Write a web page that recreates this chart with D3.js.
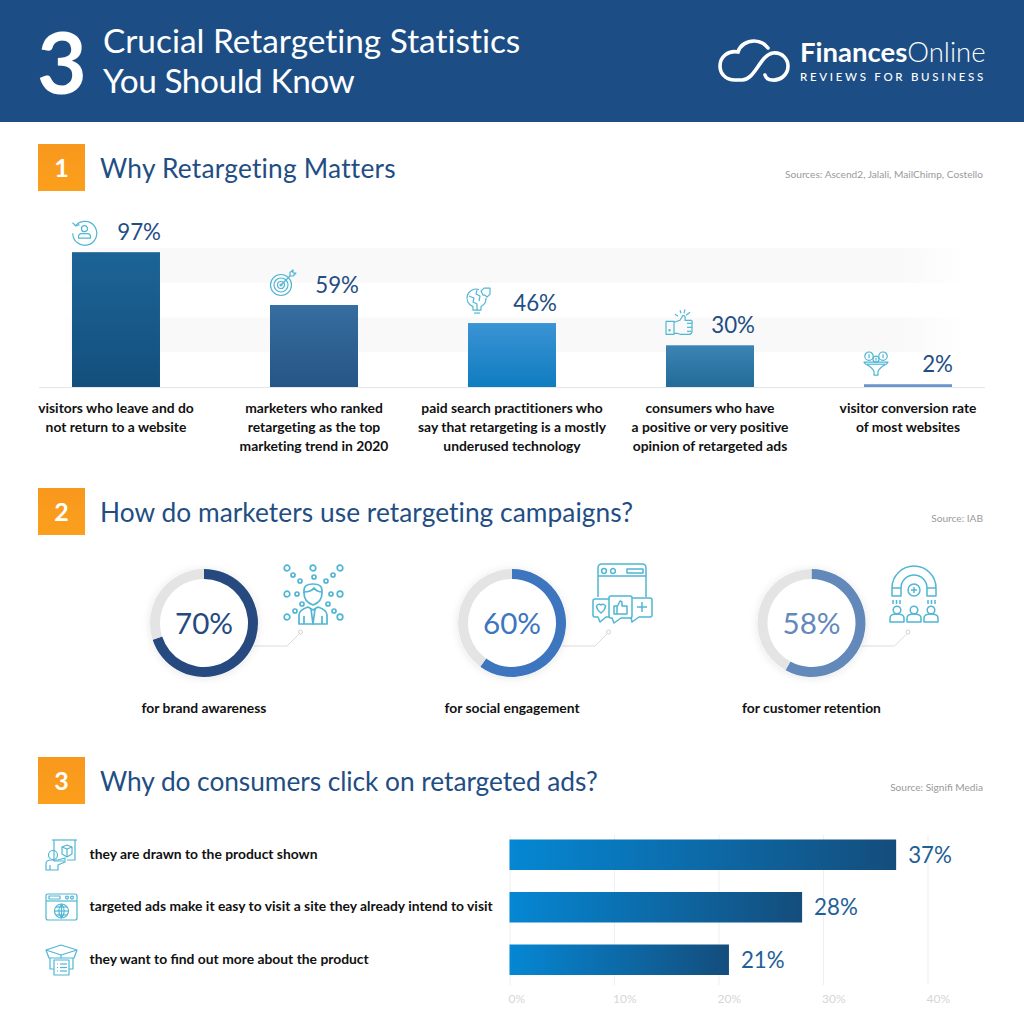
<!DOCTYPE html>
<html>
<head>
<meta charset="utf-8">
<script src="https://cdn.jsdelivr.net/npm/d3@7"></script>
<style>
  html, body { margin: 0; padding: 0; background: #fff; }
  svg { display: block; font-family: Lato, sans-serif; font-variant-ligatures: none; }
  .click-label, .source { font-variant-ligatures: normal; }
</style>
</head>
<body>
<div id="svgContainer"></div>
<script>
const width = 1024;
const height = 1024;

// section 1
const whyLabels = [
  ["visitors who leave and do", "not return to a website"],
  ["marketers who ranked", "retargeting as the top", "marketing trend in 2020"],
  ["paid search practitioners who", "say that retargeting is a mostly", "underused technology"],
  ["consumers who have", "a positive or very positive", "opinion of retargeted ads"],
  ["visitor conversion rate", "of most websites"]
];
const whyValues = [97, 59, 46, 30, 2];
const whyTop = ["#1c6496", "#356e9f", "#3a93d4", "#3a84b4", "#6a96cb"];
const whyBottom = ["#134f7d", "#275486", "#0f7dc0", "#246b97", "#6a96cb"];

// section 2
const useLabels = ["for brand awareness", "for social engagement", "for customer retention"];
const useValues = [70, 60, 58];
const useColors = ["#264a7f", "#3d75bf", "#6389bb"];

// section 3
const clickLabels = [
  "they are drawn to the product shown",
  "targeted ads make it easy to visit a site they already intend to visit",
  "they want to find out more about the product"
];
const clickValues = [37, 28, 21];
const clickTicks = [0, 10, 20, 30, 40];

const sectionTitles = ["Why Retargeting Matters", "How do marketers use retargeting campaigns?", "Why do consumers click on retargeted ads?"];
const sectionSources = ["Sources: Ascend2, Jalali, MailChimp, Costello", "Source: IAB", "Source: Signifi Media"];

const navy = "#1f4e84";
const teal = "#4fb6d4";

const svg = d3.select("#svgContainer").append("svg")
  .attr("width", width)
  .attr("height", height);
const defs = svg.append("defs");

function circ(cx, cy, r) {
  return `M${cx - r},${cy}a${r},${r} 0 1,0 ${2 * r},0a${r},${r} 0 1,0 ${-2 * r},0`;
}

function vGrad(id, top, bottom) {
  const g = defs.append("linearGradient").attr("id", id)
    .attr("x1", 0).attr("y1", 0).attr("x2", 0).attr("y2", 1);
  g.append("stop").attr("offset", 0).attr("stop-color", top);
  g.append("stop").attr("offset", 1).attr("stop-color", bottom);
}

// icons, drawn in their own little coordinate space
const icons = {
  returning: [
    "M4,6A12,12 0 1,1 .8,14", "M.5,3.5L3.8,6.8L7.5,5.5", circ(12.5, 9.5, 3),
    "M6.5,19v-1.5a3,3 0 0 1 3,-3h6a3,3 0 0 1 3,3v1.5z"
  ],
  target: [
    circ(11, 15, 10.5), circ(11, 15, 7), circ(11, 15, 3.5), circ(11, 15, 1),
    "M11,15L20,6", "M20,6V2.5L23,0V3H26L23,6z"
  ],
  bulb: [
    "M11,2.5A9,9 0 0 0 5,19.5V23H13V19.5A9,9 0 0 0 18,11",
    "M6,26H12", "M1,9L6,11L5,15L9,17L9,23", "M9,3L8,7L12,9L11,14",
    "M13,4L16,1H22V7L19,10L17,8L15,8z"
  ],
  thumb: [
    "M0,12H8V25H0z", circ(3.5, 21, .6),
    "M8,13L14,11L17,6Q20,6 19,11H25Q27,12 26,14V22Q26,25 23,25H14L11,24H8",
    "M21,14H26", "M21,18H26", "M21,22H25",
    "M15,4L14,1", "M18,4L19,0", "M20,6L24,3", "M12,7L9,5"
  ],
  funnel: [
    circ(5, 5, 4.2), circ(19, 5, 4.2), circ(12, 8, 3),
    "M5,3V7", "M19,3V7", "M12,6.5V9.5",
    "M0,11H24L22,13Q16,16 14,20V24H10V20Q8,16 2,13z", "M3,13H21"
  ],
  browser: [
    "M6,33V4Q6,0 10,0H50Q54,0 54,4V33", "M6,12H54", circ(12, 7, 2.4), circ(21, 7, 2.4),
    "M35,5H51V9H35z",
    "M17,35H3Q1,35 1,37V51Q1,53 3,53H6L8,58L14,53H17",
    "M40,34H58Q60,34 60,36V51Q60,53 58,53H47L40,58L39,53",
    "M19,32H38Q40,32 40,34V52Q40,54 38,54H29L22,59L20,54H19Q17,54 17,52V34Q17,32 19,32z",
    "M9,41A2.7,2.7 0 0 1 13.5,42.5Q13,46 9,49Q5,46 4.5,42.5A2.7,2.7 0 0 1 9,41z",
    "M22,42H25V50H22z M25,43L28,37Q30,37 30,39V42H35V50H25",
    "M50,38V48", "M45,43H55"
  ],
  magnet: [
    "M2,26A22,22 0 0 1 46,26V34H37V26A13,13 0 0 0 11,26V34H2z", "M2,26H11", "M37,26H46",
    circ(24, 28, 6), "M24,25V31", "M21,28H27",
    "M3,38V42", "M6.5,38V42", "M10,38V42", "M38,38V42", "M41.5,38V42", "M45,38V42",
    circ(7, 48, 3.8), circ(24, 48, 3.8), circ(41, 48, 3.8),
    "M0,60V56Q0,52 7,52Q14,52 14,56V60z", "M17,60V56Q17,52 24,52Q31,52 31,56V60z",
    "M34,60V56Q34,52 41,52Q48,52 48,56V60z"
  ],
  screen: [
    "M6,1H31", "M8,1V22H18", "M29,1V21H21", "M16,8L21,6L26,8V15L21,18L16,15z", "M16,8L21,10L26,8", "M21,10V18",
    circ(7, 16, 4.5), "M0,31V25Q0,21 5,21H12L19,19V23L12,26V31z", "M4,31V26"
  ],
  globe: [
    "M2,0H29Q31,0 31,2V24Q31,26 29,26H2Q0,26 0,24V2Q0,0 2,0z", "M0,7H31",
    "M3,2H14V5H3z", circ(21, 3.5, 1.4), circ(26, 3.5, 1.4),
    circ(15.5, 17, 7), "M8.5,17H22.5", "M15.5,10V24", "M10,13H21", "M10,21H21",
    "M15.5,10Q10,17 15.5,24Q21,17 15.5,10"
  ],
  box: [
    "M15,0L31,5L15,10L0,5z", "M0,5L3,13H15L15,10", "M31,5L28,13H15", "M4,13V24H8", "M27,13V24H23",
    "M8,15H23V30H8z", "M11,19H12", "M14,19H21", "M11,22.5H12", "M14,22.5H21", "M11,26H12", "M14,26H21"
  ]
};

function drawIcon(name, x, y, sw) {
  svg.append("g")
    .attr("class", "icon")
    .attr("transform", `translate(${x},${y})`)
    .selectAll("path")
    .data(icons[name])
    .join("path")
    .attr("d", d => d)
    .attr("fill", "none")
    .attr("stroke", teal)
    .attr("stroke-width", sw || 1.2)
    .attr("stroke-linejoin", "round");
}

// ---- header
svg.append("rect").attr("width", width).attr("height", 122).attr("fill", "#1c4e85");
svg.append("text").attr("x", 37).attr("y", 94).attr("font-size", 86).attr("font-weight", 700)
  .attr("fill", "#fff").text("3");
svg.append("text").attr("x", 103).attr("y", 53).attr("font-size", 33.4).attr("fill", "#fff")
  .text("Crucial Retargeting Statistics");
svg.append("text").attr("x", 103).attr("y", 93).attr("font-size", 33.4).attr("letter-spacing", -0.45).attr("fill", "#fff")
  .text("You Should Know");

svg.append("path")
  .attr("d", "M742,80H735C725,80 720,73 720,66C720,57 728,50 738,52C740,45 747,41 754,41C760,41 765,44 768,48M742,80C755,80 760,55 773,53C783,52 788,60 788,66C788,75 780,81 772,80C768,80 766,78 765,75")
  .attr("fill", "none").attr("stroke", "#fff").attr("stroke-width", 3.6).attr("stroke-linecap", "round");
const logo = svg.append("text").attr("x", 800).attr("y", 62).attr("font-size", 27.5).attr("fill", "#fff");
logo.append("tspan").attr("font-weight", 700).text("Finances");
logo.append("tspan").attr("font-weight", 300).text("Online");
svg.append("text").attr("x", 800).attr("y", 81).attr("font-size", 11.5).attr("font-weight", 500)
  .attr("letter-spacing", 2.7).attr("fill", "#fff").text("REVIEWS FOR BUSINESS");

// ---- section headings
vGrad("orange", "#f8981d", "#fb9f1c");
const sectionTops = [144, 488, 757];
const sourceY = [178, 522, 791];
const titleSpacing = [0.22, 0.05, -0.05];
sectionTops.forEach((top, i) => {
  svg.append("rect").attr("x", 38).attr("y", top).attr("width", 47).attr("height", 47).attr("fill", "url(#orange)");
  svg.append("text").attr("x", 61.5).attr("y", top + 33).attr("text-anchor", "middle")
    .attr("font-size", 25).attr("font-weight", 700).attr("fill", "#fff").text(i + 1);
  svg.append("text").attr("x", 100).attr("y", top + 34).attr("font-size", 26.3)
    .attr("letter-spacing", titleSpacing[i]).attr("fill", navy)
    .text(sectionTitles[i]);
  svg.append("text").attr("class", "source").attr("x", 983).attr("y", sourceY[i]).attr("text-anchor", "end")
    .attr("font-size", 10.15).attr("fill", "#9a9a9a").text(sectionSources[i]);
});

// ---- section 1: columns
const x1 = d3.scaleBand().domain(d3.range(whyValues.length)).range([72 - 55, 952 + 55]).paddingInner(110 / 198).paddingOuter(0.2777);
const y1 = d3.scaleLinear().domain([0, 100]).range([387, 248]);

const stripe = defs.append("linearGradient").attr("id", "stripe");
[[0, 0], [0.05, 1], [0.93, 1], [1, 0]].forEach(s => {
  stripe.append("stop").attr("offset", s[0]).attr("stop-color", "#f9f9f9").attr("stop-opacity", s[1]);
});
[[75, 100], [25, 50]].forEach(b => {
  svg.append("rect").attr("x", 60).attr("width", 905)
    .attr("y", y1(b[1])).attr("height", y1(b[0]) - y1(b[1]))
    .attr("fill", "url(#stripe)");
});

whyValues.forEach((d, i) => vGrad("why" + i, whyTop[i], whyBottom[i]));
const whyIcons = ["returning", "target", "bulb", "thumb", "funnel"];
const whyIconUp = [33, 35, 36, 36, 33];

svg.selectAll(".why-bar").data(whyValues).join("rect")
  .attr("class", "why-bar")
  .attr("x", (d, i) => x1(i))
  .attr("y", d => y1(d))
  .attr("width", x1.bandwidth())
  .attr("height", d => y1(0) - y1(d))
  .attr("fill", (d, i) => `url(#why${i})`);

svg.append("line").attr("x1", 39).attr("x2", 985).attr("y1", 387.5).attr("y2", 387.5)
  .attr("stroke", "#e3e6ea").attr("stroke-width", 1);

svg.selectAll(".why-value").data(whyValues).join("text")
  .attr("class", "why-value")
  .attr("x", (d, i) => x1(i) + x1.bandwidth() + 1)
  .attr("y", d => y1(d) - 12)
  .attr("text-anchor", "end")
  .attr("font-size", 22.3)
  .attr("fill", navy)
  .text(d => d + "%");

whyLabels.forEach((lines, i) => {
  const t = svg.append("text").attr("class", "why-label").attr("text-anchor", "middle")
    .attr("font-size", 13.87).attr("font-weight", 700).attr("fill", "#111");
  lines.forEach((line, j) => {
    t.append("tspan").attr("x", x1(i) + x1.bandwidth() / 2).attr("y", 413 + j * 19).text(line);
  });
  drawIcon(whyIcons[i], x1(i), y1(whyValues[i]) - whyIconUp[i]);
});

// ---- section 2: donuts
const pie = d3.pie().sort(null).value(d => d);
const arc = d3.arc().innerRadius(44).outerRadius(54);
const donutX = d3.scaleOrdinal().domain(useLabels).range([204, 512, 811.5]);

defs.append("filter").attr("id", "soft").attr("x", "-30%").attr("y", "-30%").attr("width", "160%").attr("height", "160%")
  .append("feDropShadow").attr("dx", 0).attr("dy", 1).attr("stdDeviation", 4).attr("flood-color", "#000").attr("flood-opacity", 0.1);

useLabels.forEach((label, i) => {
  const cx = donutX(label);
  // leader first so that the ring sits on top of it
  svg.append("path")
    .attr("d", `M${cx + 50},646H${cx + 83}L${cx + 95},634`)
    .attr("fill", "none").attr("stroke", "#dcdcdc").attr("stroke-width", 1);
  svg.append("circle").attr("cx", cx + 96.5).attr("cy", 632).attr("r", 2)
    .attr("fill", "#fff").attr("stroke", "#c8c8c8").attr("stroke-width", 0.8);

  const g = svg.append("g").attr("class", "donut").attr("transform", `translate(${cx},623)`);
  g.append("circle").attr("r", 54).attr("fill", "#fff").attr("filter", "url(#soft)");
  g.selectAll("path").data(pie([useValues[i], 100 - useValues[i]])).join("path")
    .attr("d", arc)
    .attr("fill", (d, j) => j === 0 ? useColors[i] : "#e4e4e4");
  g.append("text").attr("y", 11).attr("text-anchor", "middle").attr("font-size", 29.6)
    .attr("fill", useColors[i]).text(useValues[i] + "%");
  svg.append("text").attr("x", cx).attr("y", 713).attr("text-anchor", "middle")
    .attr("font-size", 13.87).attr("font-weight", 700).attr("fill", "#111").text(label);
});

// person with the dots around him
const dotsR3 = [[4, 4], [30, 4], [57, 4], [4, 30], [57, 30], [4, 53], [57, 53]];
const dotsR2 = [[10, 11], [31, 13], [50, 11], [17, 17], [43, 17], [14, 30], [48, 30], [19, 40], [45, 40], [12, 47], [51, 47]];
icons.crowd = dotsR3.map(p => circ(p[0], p[1], 2.8)).concat(dotsR2.map(p => circ(p[0], p[1], 2))).concat([
  "M21,29V26Q21,20 30,20Q39,20 39,26V29Q39,38 30,41Q21,38 21,29z",
  "M21,28Q28,28 31,24Q34,28 39,28",
  "M16,60V51Q16,46 25,43L30,46L35,43Q44,46 44,51V60z",
  "M28,45L30,60L32,45", "M21,52V60", "M39,52V60"
]);
drawIcon("crowd", 283, 564, 1.7);
drawIcon("browser", 592, 564, 1.5);
drawIcon("magnet", 890, 562, 1.5);

// ---- section 3: horizontal bars
const x3 = d3.scaleLinear().domain([0, 40]).range([509.5, 927.5]);
const y3 = d3.scaleBand().domain(clickLabels).range([839.5, 975]).paddingInner(22 / 52.5);

const xAxis = d3.axisBottom(x3)
  .tickValues(clickTicks)
  .tickFormat(d => d + "%")
  .tickSize(150)
  .tickPadding(9);
const axisG = svg.append("g").attr("transform", "translate(0,835)").call(xAxis);
axisG.select(".domain").remove();
axisG.selectAll(".tick line").attr("stroke", "#efefef");
axisG.selectAll(".tick text")
  .attr("text-anchor", "start")
  .attr("x", -1.5)
  .attr("font-family", "Lato, sans-serif")
  .attr("font-size", 12)
  .attr("fill", "#d6d6d6");

clickValues.forEach((d, i) => {
  const g = defs.append("linearGradient").attr("id", "click" + i);
  g.append("stop").attr("offset", 0).attr("stop-color", "#0587d3");
  g.append("stop").attr("offset", 1).attr("stop-color", "#144d7c");
});

svg.selectAll(".click-bar").data(clickValues).join("rect")
  .attr("class", "click-bar")
  .attr("x", x3(0))
  .attr("y", (d, i) => y3(clickLabels[i]))
  .attr("width", d => x3(d) - x3(0))
  .attr("height", y3.bandwidth())
  .attr("fill", (d, i) => `url(#click${i})`);

svg.selectAll(".click-value").data(clickValues).join("text")
  .attr("class", "click-value")
  .attr("x", d => x3(d) + 12)
  .attr("y", (d, i) => y3(clickLabels[i]) + 23)
  .attr("font-size", 22.3)
  .attr("fill", "#1f6098")
  .text(d => d + "%");

svg.selectAll(".click-label").data(clickLabels).join("text")
  .attr("class", "click-label")
  .attr("x", 89.5)
  .attr("y", d => y3(d) + 19)
  .attr("font-size", 13.87)
  .attr("font-weight", 700)
  .attr("fill", "#111")
  .text(d => d);

drawIcon("screen", 46, 839);
drawIcon("globe", 46, 894);
drawIcon("box", 46, 945);
</script>
</body>
</html>
